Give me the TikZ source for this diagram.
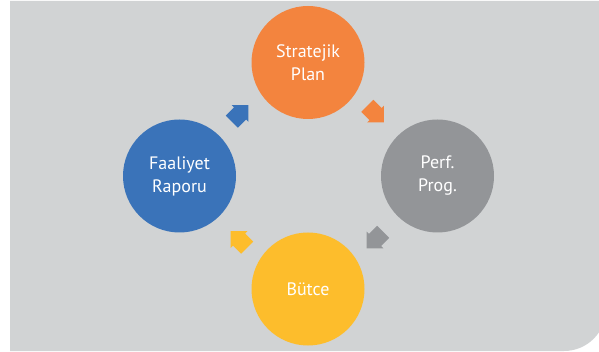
\documentclass[tikz,border=0pt]{standalone}
\usepackage{fontspec}
\setmainfont{PT Sans}
\definecolor{bggray}{HTML}{D1D3D4}
\definecolor{corange}{HTML}{F3843E}
\definecolor{cgray}{HTML}{939598}
\definecolor{cblue}{HTML}{3A73B9}
\definecolor{cyellow}{HTML}{FDBD2C}
\tikzset{
  stage/.style={circle, minimum size=113pt, inner sep=0pt, text=white,
    align=center, font=\fontsize{18}{23}\selectfont},
  blockarrow/.pic={
    \fill (-11.5,-8.5) -- (0,-8.5) -- (0,-12) -- (12,0) -- (0,12) -- (0,8.5) -- (-11.5,8.5) -- cycle;
  }
}
\begin{document}
\begin{tikzpicture}[x=1pt,y=-1pt]
\useasboundingbox (0,0) rectangle (599,352);
\clip (0,0) rectangle (599,352);
\fill[white] (0,0) rectangle (599,352);
\fill[bggray] (10,1) -- (606,1) [rounded corners=42pt] -- (606,351) [sharp corners] -- (10,351) -- cycle;
\node[stage, fill=corange] (sp) at (308,62.5) {Stratejik\\Plan};
\node[stage, fill=cblue] (fr) at (179.5,176) {Faaliyet\\Raporu};
\node[stage, fill=cgray] (pp) at (437.5,176) {Perf.\\Prog.};
\node[stage, fill=cyellow] (bu) at (308,289) {Bütce};
\coordinate (a1) at (240,113.5);
\coordinate (a2) at (375.5,114);
\coordinate (a3) at (375,240);
\coordinate (a4) at (239,239.5);
\pic[color=cblue, rotate=45] at (a1) {blockarrow};
\pic[color=corange, rotate=-45] at (a2) {blockarrow};
\pic[color=cgray, rotate=-135] at (a3) {blockarrow};
\pic[color=cyellow, rotate=135] at (a4) {blockarrow};
\end{tikzpicture}
\end{document}
